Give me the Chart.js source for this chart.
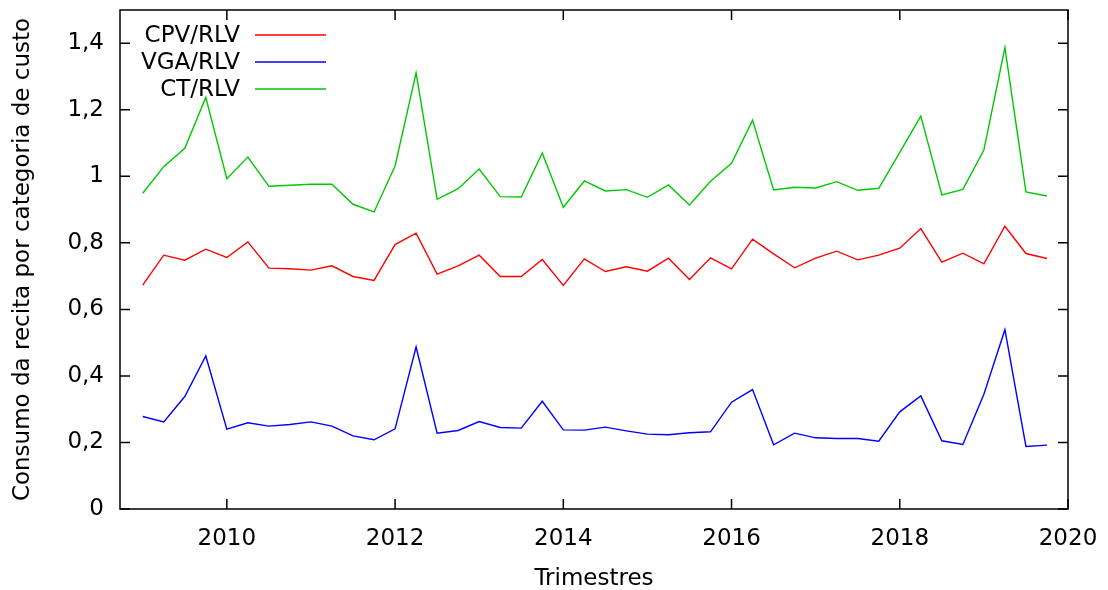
<!DOCTYPE html>
<html lang="pt">
<head>
  <meta charset="UTF-8">
  <title>Consumo da recita por categoria de custo</title>
  <script src="https://cdn.jsdelivr.net/npm/chart.js"></script>
  <style>
    body {
      margin: 0;
      background: #fff;
    }
    #wrap {
      width: 1108px;
      height: 590px;
      position: relative;
    }
  </style>
</head>
<body>
  <div id="wrap">
    <canvas id="chart"></canvas>
  </div>

  <script>
    // Trimestres 2009 T1 .. 2019 T4 (posição em anos decimais)
    const anos = [2009, 2010, 2011, 2012, 2013, 2014, 2015, 2016, 2017, 2018, 2019];
    const trimestres = anos.flatMap(a => [a, a + 0.25, a + 0.5, a + 0.75]);

    const cpvRlv = [0.673, 0.763, 0.748, 0.781, 0.756, 0.803, 0.724, 0.722, 0.718, 0.731,
                    0.699, 0.687, 0.795, 0.829, 0.706, 0.731, 0.763, 0.699, 0.699, 0.750,
                    0.672, 0.752, 0.714, 0.728, 0.715, 0.754, 0.690, 0.755, 0.722, 0.811,
                    0.767, 0.725, 0.754, 0.775, 0.749, 0.763, 0.784, 0.843, 0.742, 0.769,
                    0.737, 0.850, 0.768, 0.753];
    const vgaRlv = [0.278, 0.262, 0.338, 0.460, 0.240, 0.259, 0.249, 0.254, 0.262, 0.249,
                    0.220, 0.208, 0.241, 0.487, 0.228, 0.236, 0.263, 0.245, 0.243, 0.324,
                    0.238, 0.237, 0.246, 0.235, 0.225, 0.223, 0.229, 0.232, 0.321, 0.359,
                    0.193, 0.228, 0.214, 0.212, 0.212, 0.204, 0.292, 0.340, 0.205, 0.194,
                    0.345, 0.539, 0.188, 0.192];
    const ctRlv = [0.949, 1.029, 1.084, 1.237, 0.993, 1.058, 0.970, 0.973, 0.976, 0.976,
                   0.916, 0.893, 1.031, 1.311, 0.931, 0.963, 1.022, 0.939, 0.938, 1.070,
                   0.907, 0.986, 0.956, 0.960, 0.937, 0.974, 0.914, 0.985, 1.039, 1.169,
                   0.959, 0.967, 0.965, 0.984, 0.958, 0.964, 1.072, 1.181, 0.944, 0.961,
                   1.079, 1.387, 0.953, 0.941];

    const xTicks = [2010, 2012, 2014, 2016, 2018, 2020];
    const yTicks = [0, 0.2, 0.4, 0.6, 0.8, 1, 1.2, 1.4];

    const pontos = vals => vals.map((v, i) => ({ x: trimestres[i], y: v }));

    Chart.defaults.font.family = "'DejaVu Sans', sans-serif";
    Chart.defaults.font.size = 23;
    Chart.defaults.color = "#000";

    // moldura com marcas para dentro + legenda à moda gnuplot
    const framePlugin = {
      id: "frame",
      afterDraw(chart) {
        const ctx = chart.ctx;
        const a = chart.chartArea;
        const xs = chart.scales.x, ys = chart.scales.y;
        ctx.save();
        ctx.strokeStyle = "#000";
        ctx.lineWidth = 1.5;
        ctx.strokeRect(a.left, a.top, a.right - a.left, a.bottom - a.top);
        ctx.beginPath();
        xTicks.forEach(v => {
          const px = xs.getPixelForValue(v);
          ctx.moveTo(px, a.bottom); ctx.lineTo(px, a.bottom - 10);
          ctx.moveTo(px, a.top); ctx.lineTo(px, a.top + 10);
        });
        yTicks.forEach(v => {
          const py = ys.getPixelForValue(v);
          ctx.moveTo(a.left, py); ctx.lineTo(a.left + 10, py);
          ctx.moveTo(a.right, py); ctx.lineTo(a.right - 10, py);
        });
        ctx.stroke();

        // legenda
        ctx.font = "23px 'DejaVu Sans'";
        ctx.textAlign = "right";
        ctx.textBaseline = "middle";
        chart.data.datasets.forEach((ds, i) => {
          const y = 36 + i * 27;
          ctx.fillStyle = "#000";
          ctx.fillText(ds.label, 240, y);
          ctx.strokeStyle = ds.borderColor;
          ctx.lineWidth = 1.5;
          ctx.beginPath();
          ctx.moveTo(255, y - 1); ctx.lineTo(326, y - 1);
          ctx.stroke();
        });
        ctx.restore();
      }
    };

    new Chart(document.getElementById("chart"), {
      type: "line",
      data: {
        datasets: [
          { label: "CPV/RLV", data: pontos(cpvRlv), borderColor: "#ff0000" },
          { label: "VGA/RLV", data: pontos(vgaRlv), borderColor: "#0000ff" },
          { label: "CT/RLV", data: pontos(ctRlv), borderColor: "#00c800" }
        ]
      },
      options: {
        responsive: true,
        maintainAspectRatio: false,
        animation: false,
        layout: { padding: { top: 10, right: 40, left: 0, bottom: 0 } },
        elements: {
          line: { borderWidth: 1.4, tension: 0, fill: false },
          point: { radius: 0 }
        },
        plugins: {
          legend: { display: false },
          tooltip: { enabled: false }
        },
        scales: {
          x: {
            type: "linear",
            min: 2008.73,
            max: 2020,
            grid: { display: false, drawTicks: false },
            border: { display: false },
            afterBuildTicks: s => { s.ticks = xTicks.map(v => ({ value: v })); },
            afterFit: s => { s.height = 81; s.paddingLeft = 0; s.paddingRight = 0; },
            ticks: { padding: 16, callback: v => String(v) },
            title: { display: true, text: "Trimestres", padding: { top: -3, bottom: -3 } }
          },
          y: {
            min: 0,
            max: 1.5,
            grid: { display: false, drawTicks: false },
            border: { display: false },
            afterBuildTicks: s => { s.ticks = yTicks.map(v => ({ value: v })); },
            afterFit: s => { s.width = 120; s.paddingTop = 0; s.paddingBottom = 0; },
            ticks: {
              padding: 16,
              callback: v => String(Math.round(v * 10) / 10).replace(".", ",")
            },
            title: {
              display: true,
              text: "Consumo da recita por categoria de custo",
              padding: { top: 9, bottom: 0 }
            }
          }
        }
      },
      plugins: [framePlugin]
    });
  </script>
</body>
</html>
